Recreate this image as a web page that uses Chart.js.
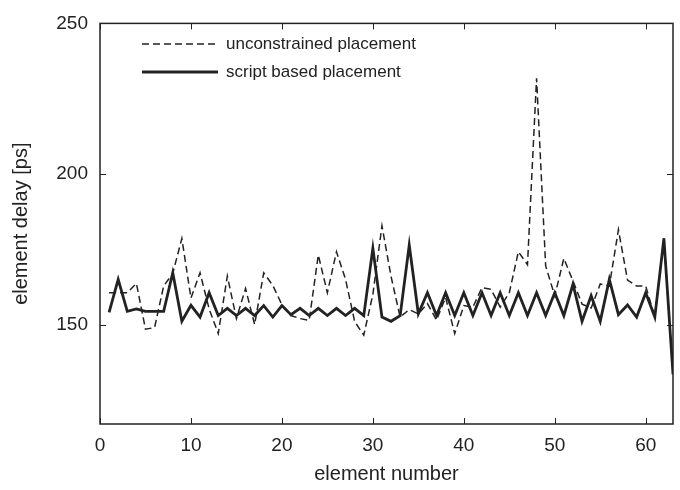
<!DOCTYPE html>
<html>
<head>
<meta charset="utf-8">
<script src="https://cdn.jsdelivr.net/npm/chart.js@4/dist/chart.umd.min.js"></script>
<style>
html,body{margin:0;padding:0;background:#fff;}
#wrap{width:680px;height:490px;}
</style>
</head>
<body>
<div id="wrap"><canvas id="c" width="680" height="490"></canvas></div>
<script>
const elementNumbers = [1,2,3,4,5,6,7,8,9,10,11,12,13,14,15,16,17,18,19,20,21,22,23,24,25,26,27,28,29,30,31,32,33,34,35,36,37,38,39,40,41,42,43,44,45,46,47,48,49,50,51,52,53,54,55,56,57,58,59,60,61,62,63];
const unconstrainedDelay = [160.6,160.6,160.6,163.7,148.5,149,162.8,167,178.6,158.8,167.2,155.2,147,166.1,152,162,150,167.2,163,156.6,153,152,151.4,173.1,160.6,174.2,165,151,146.5,160,182.8,166,152.5,155,153.5,157,151.5,159,147,156.3,155.8,162.3,161.7,155.8,160.6,174.2,169.9,231.8,169.5,159.5,172,164.5,156.8,155.5,163.5,162.8,181.5,164.8,162.8,162.8,152.5,178.6,133.5];
const scriptDelay = [154.1,165,154.4,155.2,154.4,154.4,154.4,167.2,151.1,156.4,152.5,160.6,153,155.4,153,155.4,153,156.3,152.5,156.3,153.3,155.4,153,155.4,153,155.4,153,155.4,153,175.3,152.5,151.1,153,176.4,153.6,160.6,153,160.6,153,160.6,153,160.6,153,160.6,153,160.6,153,160.6,153,160.6,153,163.4,151.1,159.6,151.1,165,153.3,156.5,152.5,160.6,152.5,178.6,133.5];
const xTicks = [0,10,20,30,40,50,60];
const yTicks = [150,200,250];
const seriesLabels = ['unconstrained placement','script based placement'];
const xTitle = 'element number';
const yTitle = 'element delay [ps]';

const FONT = "'Liberation Sans', Arial, Helvetica, sans-serif";
const INK = '#222222';

const boxPlugin = {
  id: 'boxTicks',
  afterDatasetsDraw(chart) {
    const ctx = chart.ctx, a = chart.chartArea;
    const xs = chart.scales.x, ys = chart.scales.y;
    ctx.save();
    ctx.strokeStyle = INK;
    ctx.lineWidth = 1.5;
    ctx.setLineDash([]);
    ctx.strokeRect(a.left, a.top, a.right - a.left, a.bottom - a.top);
    const L = 6;
    ctx.lineWidth = 1;
    ctx.beginPath();
    xTicks.forEach(v => {
      const px = Math.round(xs.getPixelForValue(v)) + 0.5;
      ctx.moveTo(px, a.bottom); ctx.lineTo(px, a.bottom - L);
      ctx.moveTo(px, a.top); ctx.lineTo(px, a.top + L);
    });
    yTicks.forEach(v => {
      const py = Math.round(ys.getPixelForValue(v)) + 0.5;
      ctx.moveTo(a.left, py); ctx.lineTo(a.left + L, py);
      ctx.moveTo(a.right, py); ctx.lineTo(a.right - L, py);
    });
    ctx.stroke();

    // legend
    ctx.font = '17px ' + FONT;
    ctx.fillStyle = INK;
    ctx.textBaseline = 'middle';
    ctx.textAlign = 'left';
    chart.data.datasets.forEach((ds, i) => {
      const y = 44 + i * 28;
      ctx.beginPath();
      ctx.lineWidth = ds.borderWidth;
      ctx.strokeStyle = ds.borderColor;
      ctx.setLineDash(ds.borderDash || []);
      ctx.moveTo(142, y); ctx.lineTo(218, y);
      ctx.stroke();
      ctx.setLineDash([]);
      ctx.fillText(ds.label, 226, y);
    });

    // axis titles
    ctx.font = '20px ' + FONT;
    ctx.textAlign = 'center';
    ctx.textBaseline = 'middle';
    ctx.fillText(xTitle, (a.left + a.right) / 2, 474);
    ctx.save();
    ctx.translate(21, (a.top + a.bottom) / 2);
    ctx.rotate(-Math.PI / 2);
    ctx.fillText(yTitle, 0, 0);
    ctx.restore();
    ctx.restore();
  }
};

new Chart(document.getElementById('c'), {
  type: 'line',
  data: {
    datasets: [
      {
        label: seriesLabels[0],
        data: elementNumbers.map((x, i) => ({x: x, y: unconstrainedDelay[i]})),
        borderColor: INK,
        borderWidth: 1.5,
        borderDash: [7, 4],
        pointRadius: 0,
        tension: 0,
        fill: false
      },
      {
        label: seriesLabels[1],
        data: elementNumbers.map((x, i) => ({x: x, y: scriptDelay[i]})),
        borderColor: INK,
        borderWidth: 2.8,
        pointRadius: 0,
        tension: 0,
        fill: false
      }
    ]
  },
  options: {
    responsive: false,
    animation: false,
    devicePixelRatio: 1,
    layout: { padding: { left: 0, right: 7, top: 18, bottom: 0 } },
    plugins: { legend: { display: false }, tooltip: { enabled: false } },
    scales: {
      x: {
        type: 'linear',
        min: 0, max: 63,
        afterBuildTicks: s => { s.ticks = xTicks.map(v => ({value: v})); },
        afterFit: s => { s.height = 66; },
        grid: { display: false, drawTicks: false },
        border: { display: false },
        ticks: { padding: 10, color: INK, font: { family: FONT, size: 19 }, maxRotation: 0, autoSkip: false }
      },
      y: {
        type: 'linear',
        min: 117, max: 250,
        afterBuildTicks: s => { s.ticks = yTicks.map(v => ({value: v})); },
        afterFit: s => { s.width = 100; },
        grid: { display: false, drawTicks: false },
        border: { display: false },
        ticks: { padding: 12, color: INK, font: { family: FONT, size: 19 } }
      }
    }
  },
  plugins: [boxPlugin]
});
</script>
</body>
</html>
